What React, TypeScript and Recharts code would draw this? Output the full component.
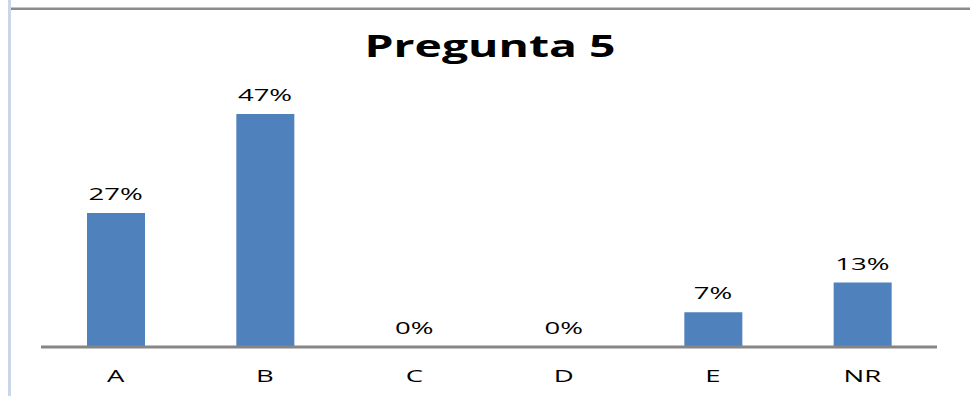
import React from "react";
import { ComposedChart, Bar, Line, XAxis, YAxis, LabelList } from "recharts";

// answers to question 5, share of responses in %
const categories = ["A", "B", "C", "D", "E", "NR"];
const percentages = [27, 47, 0, 0, 7, 13];

const data = categories.map((name, i) => ({ name, value: percentages[i] }));

const FONT = "'Open Sans', sans-serif";
const STRETCH = 1.62;

function CategoryTick(props: any) {
  const { x, y, payload } = props;
  return (
    <text
      transform={`translate(${x},${y}) scale(${STRETCH},1)`}
      y={27}
      textAnchor="middle"
      fontFamily={FONT}
      fontSize={17}
      fill="#000"
    >
      {payload.value}
    </text>
  );
}

// label sits above the point at the top of each bar (zero bars included)
function PercentLabel(props: any) {
  const { x, y, value } = props;
  return (
    <text
      transform={`translate(${x},${y - 13}) scale(${STRETCH},1)`}
      textAnchor="middle"
      fontFamily={FONT}
      fontSize={17}
      fill="#000"
    >
      {`${value}%`}
    </text>
  );
}

export default function App() {
  return (
    <div style={{ position: "absolute", left: 0, top: 0, width: 970, height: 396, background: "#fff" }}>
      <svg width={970} height={396} style={{ position: "absolute", left: 0, top: 0 }}>
        <rect x={8} y={0} width={3} height={396} fill="#ccd6e8" />
        <rect x={11} y={7} width={959} height={1} fill="#c4c4c4" />
        <rect x={11} y={8} width={959} height={2} fill="#8c8c8c" />
        <text
          transform={`translate(490,57) scale(1.57,1)`}
          textAnchor="middle"
          fontFamily={FONT}
          fontWeight={700}
          fontSize={29.5}
          fill="#000"
        >
          Pregunta 5
        </text>
      </svg>
      <div style={{ position: "absolute", left: 0, top: 0 }}>
        <ComposedChart width={970} height={396} data={data} margin={{ top: 99, right: 33, bottom: 0, left: 41 }}>
          <XAxis
            dataKey="name"
            height={49}
            axisLine={{ stroke: "#868686", strokeWidth: 3 }}
            tickLine={false}
            tick={<CategoryTick />}
            interval={0}
          />
          <YAxis hide domain={[0, 50]} />
          <Bar dataKey="value" fill="#4f81bd" barSize={58} isAnimationActive={false} />
          <Line
            dataKey="value"
            stroke="none"
            dot={false}
            activeDot={false}
            isAnimationActive={false}
          >
            <LabelList dataKey="value" content={<PercentLabel />} />
          </Line>
        </ComposedChart>
      </div>
    </div>
  );
}
